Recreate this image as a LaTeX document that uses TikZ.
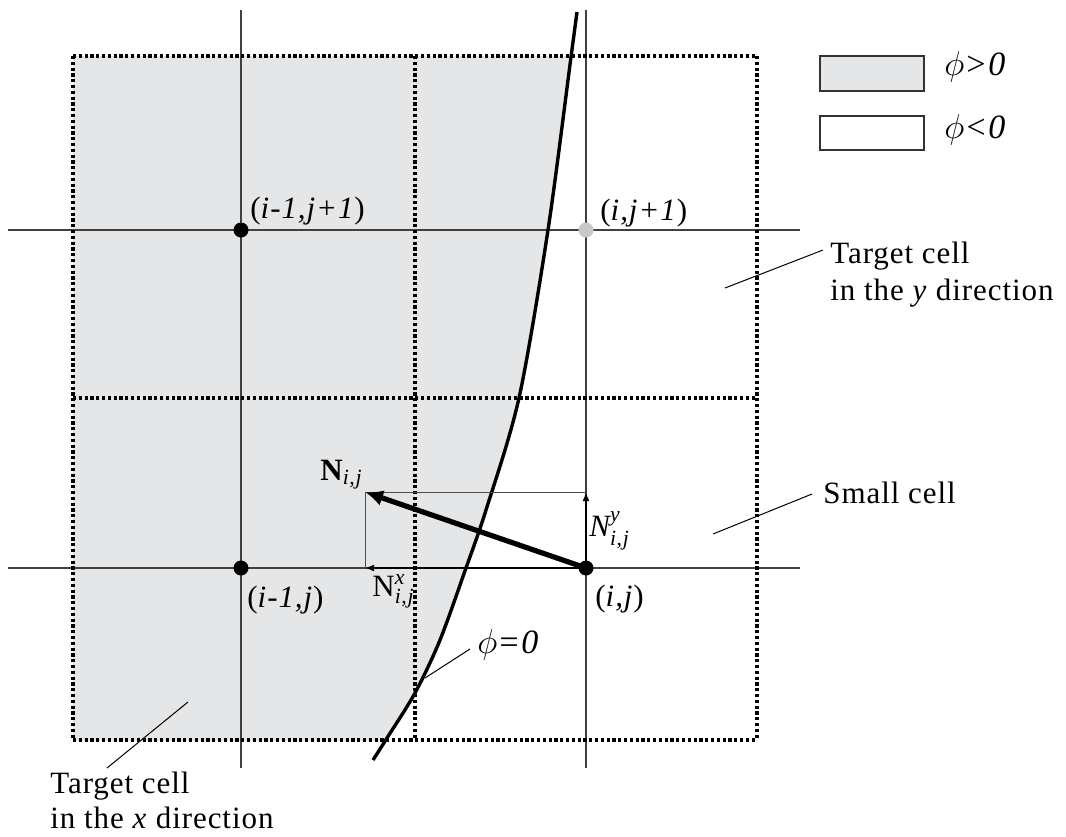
\documentclass[tikz,border=0pt]{standalone}
\usepackage{amsmath}
\usepackage{fontspec}
\setmainfont{Liberation Serif}[LetterSpace=3]
\usetikzlibrary{arrows.meta}
\definecolor{gfill}{RGB}{229,230,232}
\definecolor{gdot}{RGB}{200,200,200}
\newcommand{\lblfont}{\fontsize{15.5}{18}\selectfont}
\newcommand{\curvepts}{(577,12) (571,57) (548,230) (519,398) (486,510) (466,568) (440,640) (415,693) (387,738) (373,760)}
\begin{document}
\begin{tikzpicture}[x=0.5pt,y=-0.5pt,
  every node/.style={font=\lblfont, inner sep=0pt},
  gridline/.style={black!75, line width=0.6pt},
  dotbox/.style={black, line width=1.8pt, dash pattern=on 1.6pt off 1.3pt, line cap=butt},
  ptdot/.style={circle, fill=black, minimum size=7.5pt, inner sep=0pt},
  ptgray/.style={circle, fill=gdot, minimum size=7.5pt, inner sep=0pt},
  leader/.style={black, line width=0.5pt},
  thinrect/.style={black!70, line width=0.5pt},
  comparrow/.style={black, line width=1pt, -{Latex[length=4.5pt,width=3.5pt]}},
  mainarrow/.style={black, line width=2.6pt, -{Latex[length=9pt,width=8pt]}},
  legbox/.style={draw=black!80, line width=0.8pt}]
\useasboundingbox (0,0) rectangle (1066,836);
\fill[white] (0,0) rectangle (1066,836);
% gray region phi>0
\begin{scope}
  \clip (73,56) rectangle (757,740);
  \fill[gfill] (0,0) -- plot[smooth] coordinates {\curvepts} -- (0,836) -- cycle;
\end{scope}
% grid lines
\coordinate (vl1t) at (241,10);  \coordinate (vl1b) at (241,768);
\coordinate (vl2t) at (586,10);  \coordinate (vl2b) at (586,768);
\coordinate (hl1l) at (8,230);   \coordinate (hl1r) at (800,230);
\coordinate (hl2l) at (8,568);   \coordinate (hl2r) at (800,568);
\draw[gridline] (vl1t) -- (vl1b);
\draw[gridline] (vl2t) -- (vl2b);
\draw[gridline] (hl1l) -- (hl1r);
\draw[gridline] (hl2l) -- (hl2r);
% dotted cells
\coordinate (c00) at (73,56);  \coordinate (c10) at (415,56);  \coordinate (c20) at (757,56);
\coordinate (c01) at (73,398); \coordinate (c11) at (415,398); \coordinate (c21) at (757,398);
\coordinate (c02) at (73,740); \coordinate (c12) at (415,740); \coordinate (c22) at (757,740);
\draw[dotbox] (c00) -- (c20);
\draw[dotbox] (c01) -- (c21);
\draw[dotbox] (c02) -- (c22);
\draw[dotbox] (c00) -- (c02);
\draw[dotbox] (c10) -- (c12);
\draw[dotbox] (c20) -- (c22);
% interface curve
\draw[black, line width=1.7pt] plot[smooth] coordinates {\curvepts};
% points
\node[ptdot] (pa) at (241,230) {};
\node[ptdot] (pb) at (241,568) {};
\node[ptgray] (pc) at (586,230) {};
\coordinate (pij) at (586,568);
% normal vector decomposition
\coordinate (tip) at (365,492);
\coordinate (cx) at (365,568);
\coordinate (cy) at (586,492);
\draw[thinrect] (cy) -- (tip) -- (cx);
\draw[comparrow] (pij) -- (cx);
\draw[comparrow] (pij) -- (cy);
\draw[mainarrow] (pij) -- (tip);
\node[ptdot] (pd) at (pij) {};
% legend
\node[legbox, fill=gfill, minimum width=52pt, minimum height=17.5pt, anchor=north west] (lg1) at (819,55) {};
\node[legbox, fill=white, minimum width=52pt, minimum height=17pt, anchor=north west] (lg2) at (819,115) {};
\node[anchor=base west] (lt1) at (944,75) {\fontsize{17}{20}\selectfont$\phi$\textit{>0}};
\node[anchor=base west] (lt2) at (944,138) {\fontsize{17}{20}\selectfont$\phi$\textit{<0}};
% point labels
\node[anchor=base west] (la) at (250,218) {(\textit{i-1,j+1})};
\node[anchor=base west] (lc) at (600,220) {(\textit{i,j+1})};
\node[anchor=base west] (lb) at (247,607) {(\textit{i-1,j})};
\node[anchor=base west] (ld) at (595,606) {(\textit{i,j})};
% vector labels
\node[anchor=base west] (ln) at (320,480) {$\textbf{N}_{\textit{i,j}}$};
\node[anchor=base west] (lnx) at (372,596) {$\textrm{N}^{\textit{x}}_{\textit{i,j}}$};
\node[anchor=base west] (lny) at (589,536) {$\textit{N}^{\textit{y}}_{\textit{i,j}}$};
% phi = 0
\node[anchor=base west] (lphi) at (477,653) {\fontsize{17}{20}\selectfont$\phi$\textit{=0}};
\coordinate (phia) at (425,678); \coordinate (phib) at (470,649);
\draw[leader] (phia) -- (phib);
% target cell y
\node[anchor=base west] (ty1) at (830,263) {Target cell};
\node[anchor=base west] (ty2) at (830,300) {in the \textit{y} direction};
\coordinate (tya) at (725,288); \coordinate (tyb) at (823,250);
\draw[leader] (tya) -- (tyb);
% small cell
\node[anchor=base west] (sc) at (823,503) {Small cell};
\coordinate (sca) at (713,534); \coordinate (scb) at (812,494);
\draw[leader] (sca) -- (scb);
% target cell x
\node[anchor=base west] (tx1) at (50,793) {Target cell};
\node[anchor=base west] (tx2) at (50,828) {in the \textit{x} direction};
\coordinate (txa) at (107,768); \coordinate (txb) at (188,702);
\draw[leader] (txa) -- (txb);
\end{tikzpicture}
\end{document}
